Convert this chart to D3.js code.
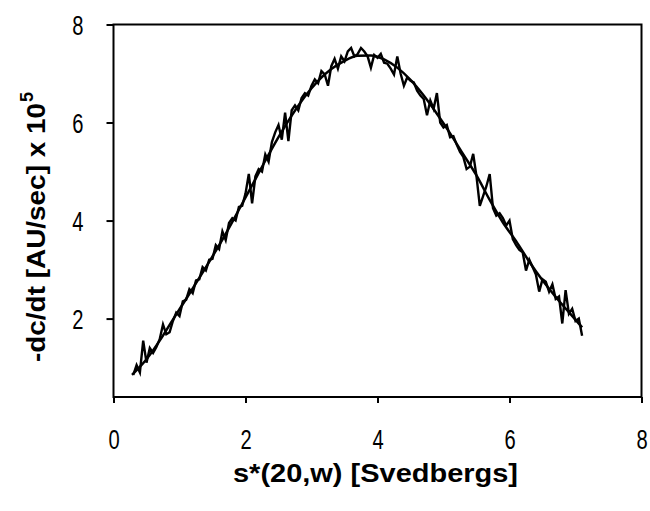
<!DOCTYPE html>
<html>
<head>
<meta charset="utf-8">
<script src="https://cdn.jsdelivr.net/npm/d3@7"></script>
<style>
  body { margin: 0; background: #fff; }
  svg { display: block; }
  .tick text { font-family: "Liberation Sans", Arial, sans-serif; font-size: 28px; fill: #000; }
  .title { font-family: "Liberation Sans", Arial, sans-serif; font-weight: bold; font-size: 26px; fill: #000; }
</style>
</head>
<body>
<script>
// fitted curve (smooth line)
var fitX = [0.28, 0.5, 0.7, 0.9, 1.1, 1.3, 1.5, 1.7, 1.9, 2.1, 2.3, 2.5, 2.7, 2.9, 3.1, 3.3, 3.5, 3.7, 3.9,
            4.1, 4.3, 4.5, 4.7, 4.9, 5.1, 5.3, 5.5, 5.7, 5.9, 6.1, 6.3, 6.5, 6.7, 6.9, 7.1];
var fitY = [0.85, 1.17, 1.55, 1.98, 2.40, 2.83, 3.27, 3.73, 4.22, 4.72, 5.22, 5.70, 6.14, 6.53, 6.85, 7.09, 7.26, 7.36, 7.37,
            7.29, 7.12, 6.87, 6.55, 6.18, 5.78, 5.35, 4.92, 4.42, 3.96, 3.58, 3.16, 2.78, 2.44, 2.13, 1.82];

// raw scan data (noisy line)
var rawX = [0.30, 0.35, 0.40, 0.45, 0.50, 0.55, 0.60, 0.65, 0.70, 0.75, 0.80, 0.85, 0.90, 0.95, 1.00, 1.05, 1.10, 1.15, 1.20, 1.25,
            1.30, 1.35, 1.40, 1.45, 1.50, 1.55, 1.60, 1.65, 1.70, 1.75, 1.80, 1.85, 1.90, 1.95, 2.00, 2.05, 2.10, 2.15, 2.20, 2.25,
            2.30, 2.35, 2.40, 2.45, 2.50, 2.55, 2.60, 2.65, 2.70, 2.75, 2.80, 2.85, 2.90, 2.95, 3.00, 3.05, 3.10, 3.15, 3.20, 3.25,
            3.30, 3.35, 3.40, 3.45, 3.50, 3.55, 3.60, 3.65, 3.70, 3.75, 3.80, 3.85, 3.90, 3.95, 4.00, 4.05, 4.10, 4.15, 4.20, 4.25,
            4.30, 4.35, 4.40, 4.45, 4.50, 4.55, 4.60, 4.65, 4.70, 4.75, 4.80, 4.85, 4.90, 4.95, 5.00, 5.05, 5.10, 5.15, 5.20, 5.25,
            5.30, 5.35, 5.40, 5.45, 5.50, 5.55, 5.60, 5.65, 5.70, 5.75, 5.80, 5.85, 5.90, 5.95, 6.00, 6.05, 6.10, 6.15, 6.20, 6.25,
            6.30, 6.35, 6.40, 6.45, 6.50, 6.55, 6.60, 6.65, 6.70, 6.75, 6.80, 6.85, 6.90, 6.95, 7.00, 7.05, 7.10];
var rawY = [0.85, 1.05, 0.90, 1.55, 1.10, 1.40, 1.30, 1.42, 1.58, 1.88, 1.68, 1.72, 1.95, 2.12, 2.05, 2.35, 2.38, 2.60, 2.52, 2.78,
            2.80, 3.05, 2.98, 3.20, 3.22, 3.50, 3.42, 3.78, 3.60, 3.95, 4.05, 4.00, 4.28, 4.30, 4.55, 4.95, 4.35, 4.90, 5.05, 5.00,
            5.35, 5.20, 5.60, 5.80, 5.95, 5.65, 6.20, 5.62, 6.25, 6.35, 6.25, 6.50, 6.60, 6.55, 6.75, 6.88, 6.80, 7.05, 6.98, 6.75,
            7.15, 7.30, 7.10, 7.35, 7.25, 7.45, 7.52, 7.35, 7.40, 7.52, 7.45, 7.35, 7.12, 7.38, 7.32, 7.40, 7.22, 7.20, 7.10, 6.98,
            7.35, 7.00, 6.75, 6.92, 6.85, 6.82, 6.65, 6.55, 6.48, 6.15, 6.45, 6.28, 6.60, 6.00, 5.90, 5.95, 5.70, 5.72, 5.55, 5.40,
            5.30, 5.05, 5.10, 5.36, 4.90, 4.30, 4.50, 4.70, 4.95, 4.25, 4.10, 4.15, 4.05, 3.90, 4.00, 3.62, 3.50, 3.40, 3.35, 2.98,
            3.20, 3.05, 2.90, 2.55, 2.80, 2.75, 2.55, 2.70, 2.40, 2.45, 1.90, 2.58, 2.10, 2.20, 1.95, 2.00, 1.65];

var xTicks = [0, 2, 4, 6, 8];
var yTicks = [2, 4, 6, 8];

var width = 650, height = 511;
var svg = d3.select('body').append('svg').attr('width', width).attr('height', height);

var x = d3.scaleLinear().domain([0, 8]).range([113.5, 641.5]);
var y = d3.scaleLinear().domain([0.4, 8]).range([397, 24.5]);

var fitData = fitX.map(function(d, i) { return {x: d, y: fitY[i]}; });
var rawData = rawX.map(function(d, i) { return {x: d, y: rawY[i]}; });

var line = d3.line().x(function(d) { return x(d.x); }).y(function(d) { return y(d.y); });

svg.append('path')
    .datum(rawData)
    .attr('d', line)
    .attr('fill', 'none').attr('stroke', '#000').attr('stroke-width', 2.4)
    .attr('stroke-linejoin', 'miter');

svg.append('path')
    .datum(fitData)
    .attr('d', d3.line().x(function(d) { return x(d.x); }).y(function(d) { return y(d.y); }).curve(d3.curveMonotoneX))
    .attr('fill', 'none').attr('stroke', '#000').attr('stroke-width', 2.5);

// axes
var xAxis = svg.append('g')
    .attr('transform', 'translate(0,' + 397 + ')')
    .call(d3.axisBottom(x).tickValues(xTicks).tickSize(6).tickFormat(d3.format('d')));
var yAxis = svg.append('g')
    .attr('transform', 'translate(' + 113.5 + ',0)')
    .call(d3.axisLeft(y).tickValues(yTicks).tickSize(7).tickFormat(d3.format('d')));

[xAxis, yAxis].forEach(function(g) {
    g.select('.domain').remove();
    g.selectAll('.tick line').attr('stroke', '#000').attr('stroke-width', 2);
});
xAxis.selectAll('.tick text')
    .attr('y', 52).attr('dy', 0)
    .attr('transform', 'scale(0.72,1)');
yAxis.selectAll('.tick text')
    .attr('x', 0).attr('dy', '0.36em')
    .attr('transform', 'translate(-30,0) scale(0.72,1)');

// plot border
svg.append('rect')
    .attr('x', 113.5).attr('y', 24.5)
    .attr('width', 641.5 - 113.5).attr('height', 397 - 24.5)
    .attr('fill', 'none').attr('stroke', '#000').attr('stroke-width', 2);

// axis titles
svg.append('text').attr('class', 'title')
    .attr('x', 233).attr('y', 482)
    .attr('textLength', 285).attr('lengthAdjust', 'spacingAndGlyphs')
    .text('s*(20,w) [Svedbergs]');

var yt = svg.append('text').attr('class', 'title')
    .attr('transform', 'translate(45,362) rotate(-90)');
yt.append('tspan')
    .attr('textLength', 259).attr('lengthAdjust', 'spacingAndGlyphs')
    .text('-dc/dt [AU/sec] x 10');
yt.append('tspan')
    .attr('dx', 1).attr('dy', -12).style('font-size', '18px')
    .text('5');
</script>
</body>
</html>
